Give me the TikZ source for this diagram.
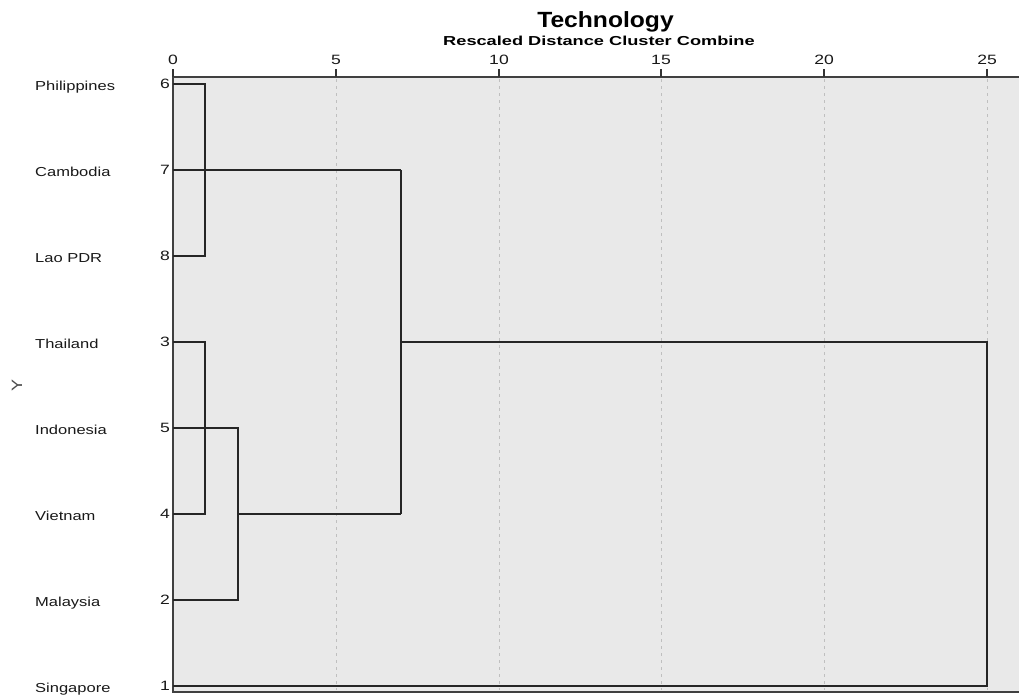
\documentclass[tikz,border=0pt]{standalone}
\usepackage{fontspec}
\setmainfont{Liberation Sans}
\newcommand\wx[2]{\scalebox{#1}[1]{#2}}
\begin{document}
\begin{tikzpicture}[x=1pt,y=-1pt,
  lbl/.style={font=\fontsize{13}{13}\selectfont, anchor=base west, inner sep=0pt, text=black!90},
  num/.style={font=\fontsize{13.5}{13.5}\selectfont, anchor=east, inner sep=0pt, text=black!90},
  ticklbl/.style={font=\fontsize{13.5}{13.5}\selectfont, anchor=base, inner sep=0pt, text=black!90},
  dend/.style={line width=1.7pt, draw=black!85},
  gridline/.style={dashed, dash pattern=on 3pt off 4pt, draw=black!25, line width=0.9pt},
  frame/.style={line width=2pt, draw=black!75},
  tickmark/.style={line width=2pt, draw=black!80}]
\useasboundingbox (0,0) rectangle (1019,697);
\fill[white] (0,0) rectangle (1019,697);
% plot area
\fill[black!8.5] (173,77) rectangle (1019,692);
% grid lines
\foreach \gx in {336,499,661,824,987}
  \draw[gridline] (\gx,79) -- (\gx,690);
% frame
\draw[frame] (1019,77) -- (173,77) -- (173,692) -- (1019,692);
% ticks and tick labels
\foreach \gx/\t in {173/0,336/5,499/10,661/15,824/20,987/25}{
  \draw[tickmark] (\gx,69) -- (\gx,77);
  \node[ticklbl] (t\t) at (\gx,64) {\wx{1.3}{\t}};
}
% titles
\node[anchor=base, inner sep=0pt, font=\fontsize{22}{22}\selectfont\bfseries] (title) at (605.5,27) {\wx{1.12}{Technology}};
\node[anchor=base, inner sep=0pt, font=\fontsize{13}{13}\selectfont\bfseries] (subtitle) at (599,45) {\wx{1.4}{Rescaled Distance Cluster Combine}};
% axis label
\node[rotate=90, inner sep=0pt, font=\fontsize{15}{15}\selectfont, text=black!70] (ylab) at (17,385) {\wx{1.2}{Y}};
% leaves
\foreach \n/\yy/\name in {6/84/Philippines,7/170/Cambodia,8/256/Lao PDR,3/342/Thailand,5/428/Indonesia,4/514/Vietnam,2/600/Malaysia,1/686/Singapore}{
  \node[lbl] (c\n) at (35,\yy+6) {\wx{1.27}{\name}};
  \node[num] (n\n) at (170,\yy) {\wx{1.3}{\n}};
  \coordinate (l\n) at (173,\yy);
}
% merge points
\coordinate (m68) at (205,170);
\coordinate (m34) at (205,428);
\coordinate (m534) at (238,514);
\coordinate (mA) at (401,342);
\coordinate (mAll) at (987,514);
% dendrogram
\draw[dend] (l6) -- (l6 -| m68) -- (l8 -| m68) -- (l8);
\draw[dend] (l7) -- (l7 -| mA);
\draw[dend] (l3) -- (l3 -| m34) -- (l4 -| m34) -- (l4);
\draw[dend] (l5) -- (l5 -| m534) -- (l2 -| m534) -- (l2);
\draw[dend] (l4 -| m534) -- (l4 -| mA);
\draw[dend] (l7 -| mA) -- (l4 -| mA);
\draw[dend] (mA) -- (mA -| mAll) -- (l1 -| mAll) -- (l1);
\end{tikzpicture}
\end{document}
